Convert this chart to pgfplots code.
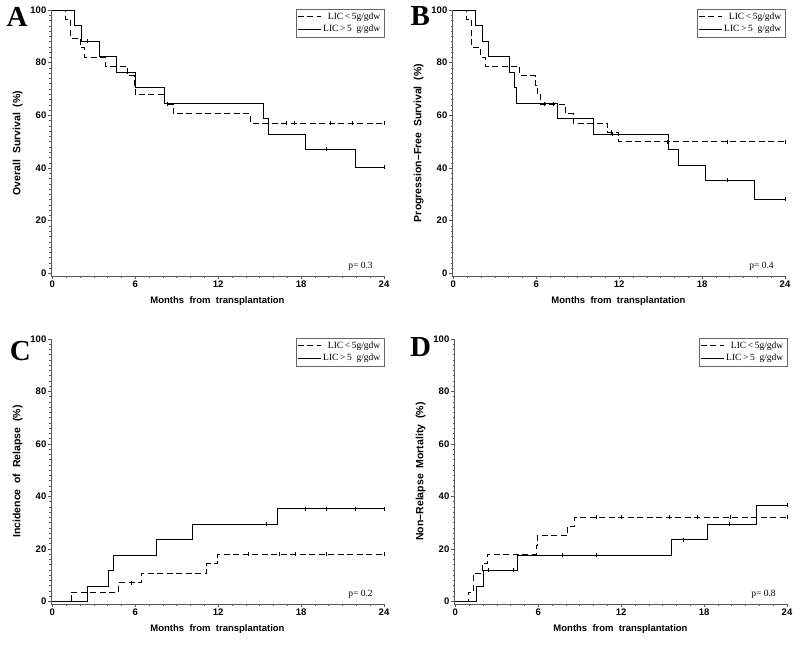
\documentclass[border=0pt]{standalone}
\usepackage{fontspec}
\setmainfont{Liberation Serif}
\setsansfont{Liberation Sans}
\usepackage{pgfplots}
\pgfplotsset{compat=1.18}

\pgfplotsset{
  km/.style={
    scale only axis, width=333bp, height=266bp,
    xmin=-0.1, xmax=24, ymin=-1, ymax=100,
    axis lines=left, axis line style={-, black!65, line width=0.6bp},
    xtick={0,6,...,24}, ytick={0,20,...,100},
    minor x tick num=5, minor y tick num=9,
    tick align=outside, major tick length=3bp, minor tick length=1.5bp,
    tick style={black!65, line width=0.5bp},
    /pgf/number format/assume math mode=true,
    tick label style={font=\sffamily\bfseries\fontsize{9.5bp}{11bp}\selectfont, inner sep=1.5bp},
    label style={font=\sffamily\bfseries\fontsize{9.5bp}{11bp}\selectfont},
    ylabel style={font=\sffamily\bfseries\fontsize{10.5bp}{12bp}\selectfont},
    xlabel={Months\ \ from\ \ transplantation},
    ylabel style={at={(axis description cs:-0.1,0.5)}, anchor=center, rotate=0},
    xlabel style={at={(axis description cs:0.5,-0.095)}, anchor=center},
    legend style={at={(1,1.004)}, anchor=north east, draw=black!60,
      font=\rmfamily\fontsize{9.5bp}{11bp}\selectfont, inner sep=1.5bp,
      row sep=0.5bp, cells={anchor=east}},
    legend image code/.code={\draw[#1] (0bp,0bp) -- (23bp,0bp);},
    clip=false,
  },
  lo/.style={black, line width=0.8bp, dash pattern=on 6bp off 3.5bp, const plot mark left},
  hi/.style={black, line width=0.7bp, const plot mark left},
  cens/.style={only marks, mark=|, mark size=2bp, black, mark options={line width=0.5bp}, forget plot},
}
\tikzset{
  letter/.style={font=\rmfamily\bfseries\fontsize{29bp}{29bp}\selectfont},
  pval/.style={font=\rmfamily\fontsize{9.5bp}{10bp}\selectfont},
}

\begin{document}
\begin{tikzpicture}
\useasboundingbox (0,0) rectangle (800bp,-649bp);

% A: overall survival
\begin{axis}[km, at={(51bp,-276bp)}, anchor=south west, ylabel={Overall\ \ Survival\ \ (\%)}]
\addplot[lo] coordinates {(0,100) (0.96,96.4) (1.33,89.3) (2.0,85.7) (2.34,82.1) (3.81,78.6) (5.43,75.0) (5.9,71.4) (6.0,67.9) (8.13,64.3) (8.75,60.7) (14.35,57.1) (24,57.1)};
\addlegendentry{LIC\,<\,5g/gdw}
\addplot[hi] coordinates {(0,100) (1.62,94.1) (2.12,88.2) (3.38,82.4) (4.63,76.5) (6.03,70.6) (8.13,64.7) (15.3,58.8) (15.6,52.9) (18.3,47.1) (21.9,40.3) (24,40.3)};
\addlegendentry{LIC\,>\,5\ \ g/gdw}
\addplot[cens] coordinates {(16.9,57.1) (17.5,57.1) (20.1,57.1) (21.7,57.1) (24,57.1) (8.3,64.3)};
\addplot[cens] coordinates {(19.8,47.1) (24,40.3) (2.5,88.2)};
\node[letter] at (axis description cs:-0.102,0.975) {A};
\node[pval] at (axis cs:22.3,2.6) {p= 0.3};
\end{axis}

% B: progression-free survival
\begin{axis}[km, at={(452bp,-276bp)}, anchor=south west, ylabel={Progression\textendash Free\ \ Survival\ \ (\%)}]
\addplot[lo] coordinates {(0,100) (0.96,96.4) (1.32,85.7) (1.97,82.1) (2.29,78.6) (4.81,75.0) (5.95,71.4) (6.05,67.9) (6.3,64.3) (8.1,60.7) (8.67,57.1) (11.17,53.6) (11.96,50.0) (24,50.0)};
\addlegendentry{LIC\,<\,5g/gdw}
\addplot[hi] coordinates {(0,100) (1.61,94.1) (2.09,88.2) (2.5,82.4) (4.02,76.5) (4.38,70.6) (4.57,64.7) (7.51,58.8) (10.1,52.9) (15.57,47.1) (16.25,41.2) (18.2,35.3) (21.8,28.2) (24,28.2)};
\addlegendentry{LIC\,>\,5\ \ g/gdw}
\addplot[cens] coordinates {(6.6,64.3) (7.2,64.3) (11.4,53.6) (15.5,50.0) (19.8,50.0) (24,50.0)};
\addplot[cens] coordinates {(19.8,35.3) (24,28.2) (11.5,52.9)};
\node[letter] at (axis description cs:-0.095,0.977) {B};
\node[pval] at (axis cs:22.3,2.6) {p= 0.4};
\end{axis}

% C: incidence of relapse
\begin{axis}[km, height=265bp, at={(51bp,-604bp)}, anchor=south west, ylabel={Incidence\ \ of\ \ Relapse\ \ (\%)}]
\addplot[lo] coordinates {(0,0) (1.37,3.6) (4.81,7.1) (6.43,10.7) (11.17,14.3) (11.96,17.9) (24,17.9)};
\addlegendentry{LIC\,<\,5g/gdw}
\addplot[hi] coordinates {(0,0) (2.5,5.9) (4.02,11.8) (4.43,17.6) (7.56,23.5) (10.1,29.4) (16.3,35.3) (24,35.3)};
\addlegendentry{LIC\,>\,5\ \ g/gdw}
\addplot[cens] coordinates {(14.2,17.9) (16.4,17.9) (17.6,17.9) (19.8,17.9) (24,17.9) (5.7,7.1)};
\addplot[cens] coordinates {(15.5,29.4) (18.3,35.3) (19.8,35.3) (21.9,35.3) (24,35.3)};
\node[letter] at (axis description cs:-0.092,0.955) {C};
\node[pval] at (axis cs:22.3,2.6) {p= 0.2};
\end{axis}

% D: non-relapse mortality
\begin{axis}[km, height=265bp, at={(454bp,-604bp)}, anchor=south west, ylabel={Non\textendash Relapse\ \ Mortality\ \ (\%)}]
\addplot[lo] coordinates {(0,0) (0.92,3.6) (1.28,10.7) (1.93,14.3) (2.29,17.9) (5.86,21.4) (5.91,25.0) (8.08,28.6) (8.63,32.1) (24,32.1)};
\addlegendentry{LIC\,<\,5g/gdw}
\addplot[hi] coordinates {(0,0) (1.52,5.9) (2.05,11.8) (4.51,17.6) (15.6,23.5) (18.2,29.4) (21.76,36.7) (24,36.7)};
\addlegendentry{LIC\,>\,5\ \ g/gdw}
\addplot[cens] coordinates {(10.2,32.1) (12.0,32.1) (15.5,32.1) (17.5,32.1) (19.9,32.1) (24,32.1)};
\addplot[cens] coordinates {(2.4,11.8) (4.2,11.8) (7.7,17.6) (10.2,17.6) (16.5,23.5) (19.8,29.4) (24,36.7)};
\node[letter] at (axis description cs:-0.1,0.97) {D};
\node[pval] at (axis cs:22.3,2.6) {p= 0.8};
\end{axis}
\end{tikzpicture}
\end{document}
